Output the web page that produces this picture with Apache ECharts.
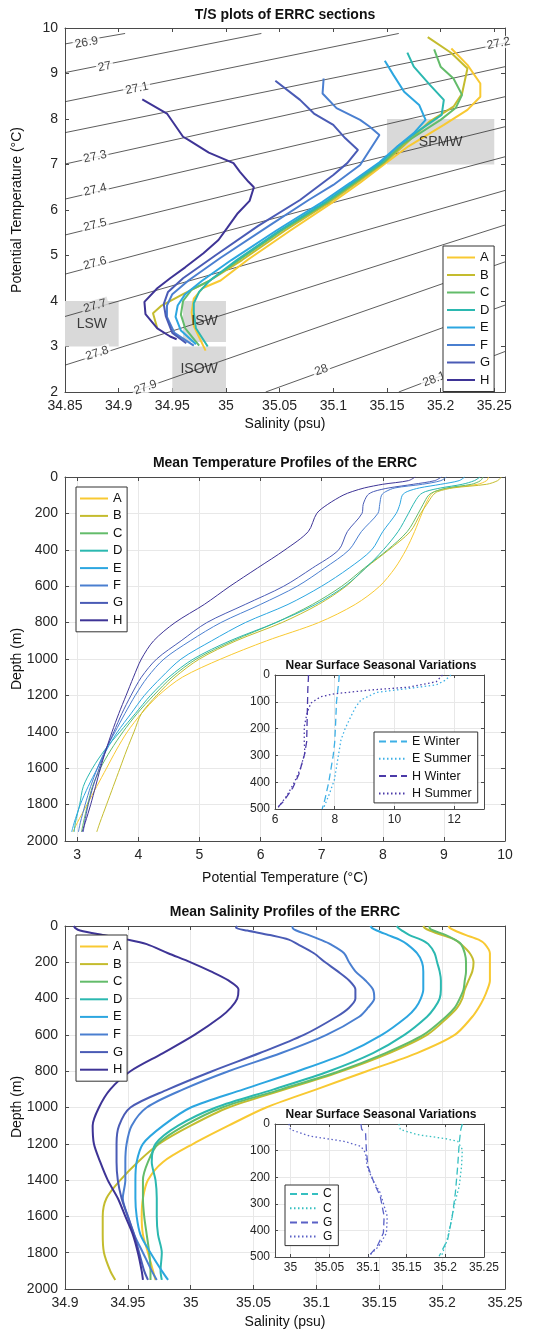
<!DOCTYPE html>
<html><head><meta charset="utf-8">
<script src="https://cdn.jsdelivr.net/npm/echarts@6/dist/echarts.min.js"></script>
<style>html,body{margin:0;padding:0;background:#fff}#c{width:551px;height:1333px}</style>
</head><body><div id="c"></div><script>
// ---------------- DATA ----------------
const sections = ['A','B','C','D','E','F','G','H'];
const sectionColors = ['#F8C932','#C4BC2E','#63BC6A','#2BB8B0','#2CA6E0','#4A7FD0','#4A5BB5','#3E3496'];

// T/S curves: [salinity, potential temperature]
const ts_A = [[35.210,9.55],[35.225,9.19],[35.237,8.78],[35.237,8.49],[35.225,8.20],[35.203,7.87],[35.170,7.40],[35.150,7.05],[35.125,6.60],[35.100,6.18],[35.060,5.55],[35.020,4.90],[34.995,4.45],[34.978,4.28],[34.970,4.05],[34.968,3.75],[34.970,3.45],[34.981,2.91]];
const ts_B = [[35.188,9.80],[35.210,9.45],[35.225,9.11],[35.220,8.56],[35.212,8.27],[35.190,7.95],[35.165,7.40],[35.148,7.05],[35.122,6.60],[35.097,6.18],[35.055,5.55],[35.015,4.90],[34.985,4.45],[34.960,4.15],[34.940,3.90],[34.932,3.73],[34.936,3.40]];
const ts_C = [[35.194,9.53],[35.200,9.15],[35.212,8.89],[35.220,8.53],[35.214,8.24],[35.200,7.98],[35.165,7.45],[35.147,7.05],[35.120,6.60],[35.095,6.18],[35.052,5.55],[35.012,4.90],[34.985,4.45],[34.968,4.25],[34.960,4.00],[34.958,3.70],[34.962,3.40],[34.975,3.02]];
const ts_D = [[35.169,9.46],[35.175,9.15],[35.190,8.75],[35.203,8.42],[35.201,8.09],[35.180,7.75],[35.160,7.40],[35.145,7.05],[35.118,6.60],[35.093,6.18],[35.050,5.55],[35.010,4.90],[34.985,4.45],[34.975,4.20],[34.970,3.95],[34.970,3.75],[34.972,3.40],[34.983,3.00]];
const ts_E = [[35.148,9.28],[35.156,8.97],[35.166,8.60],[35.180,8.31],[35.186,7.98],[35.175,7.69],[35.160,7.40],[35.143,7.05],[35.116,6.60],[35.090,6.18],[35.047,5.55],[35.005,4.90],[34.978,4.45],[34.962,4.15],[34.955,3.90],[34.953,3.65],[34.958,3.35],[34.972,3.05]];
const ts_F = [[35.091,8.89],[35.090,8.56],[35.103,8.24],[35.125,7.98],[35.134,7.83],[35.143,7.65],[35.134,7.32],[35.125,6.99],[35.100,6.55],[35.077,6.22],[35.040,5.65],[34.995,4.95],[34.965,4.45],[34.950,4.15],[34.945,3.90],[34.945,3.65],[34.952,3.30],[34.970,3.02]];
const ts_G = [[35.046,8.84],[35.069,8.42],[35.082,8.12],[35.100,7.87],[35.111,7.58],[35.123,7.32],[35.113,7.03],[35.100,6.77],[35.069,6.22],[35.030,5.65],[34.990,5.00],[34.960,4.50],[34.946,4.20],[34.942,3.93],[34.944,3.66],[34.950,3.30],[34.963,3.07]];
const ts_H = [[34.922,8.43],[34.945,8.12],[34.960,7.61],[34.965,7.54],[34.984,7.26],[35.007,7.03],[35.013,6.84],[35.021,6.62],[35.026,6.50],[35.022,6.20],[35.011,5.93],[35.001,5.60],[34.993,5.34],[34.979,5.05],[34.962,4.74],[34.948,4.50],[34.936,4.28],[34.924,3.98],[34.925,3.71],[34.936,3.40],[34.948,3.22],[34.954,3.16]];

// isopycnals (sigma-theta), end points: [salinity, temperature]
const isopycnalLabels = ['26.9','27','27.1','27.2','27.3','27.4','27.5','27.6','27.7','27.8','27.9','28','28.1'];
const isopycnalLines = [
  [[34.85,9.65],[34.906,9.88]],
  [[34.85,9.02],[35.033,9.88]],
  [[34.85,8.38],[35.161,9.88]],
  [[34.85,7.70],[35.26,9.67]],
  [[34.85,7.01],[35.26,9.15]],
  [[34.85,6.24],[35.26,8.49]],
  [[34.85,5.45],[35.26,7.83]],
  [[34.85,4.59],[35.26,7.17]],
  [[34.85,3.66],[35.26,6.43]],
  [[34.85,2.59],[35.26,5.67]],
  [[34.913,2.0],[35.26,4.86]],
  [[35.037,2.0],[35.26,3.91]],
  [[35.161,2.0],[35.26,2.89]]
];
const isopycnalLabelAt = [[34.870,9.68],[34.887,9.15],[34.917,8.67],[35.254,9.66],[34.878,7.17],[34.878,6.44],[34.878,5.67],[34.878,4.83],[34.878,3.89],[34.880,2.85],[34.925,2.10],[35.089,2.48],[35.194,2.28]];

// water mass boxes
const waterMassNames = ['SPMW','LSW','ISW','ISOW'];
const waterMassSal = [[35.15,35.25],[34.85,34.90],[34.96,35.00],[34.95,35.00]];
const waterMassTemp = [[7.0,8.0],[3.0,4.0],[3.1,4.0],[2.0,3.0]];

// mean temperature profiles
const tempDepths = [0,20,40,60,80,100,150,200,300,400,500,600,700,800,900,1000,1100,1200,1300,1400,1500,1600,1700,1800,1900,1950];
const temp_A = [9.73,9.70,9.55,9.10,8.85,8.78,8.70,8.64,8.52,8.38,8.20,7.95,7.55,6.95,6.10,5.35,4.72,4.33,4.05,3.82,3.64,3.48,3.32,3.16,3.00,2.93];
const temp_B = [9.94,9.88,9.70,9.15,8.90,8.82,8.72,8.62,8.45,8.10,7.72,7.40,6.95,6.35,5.60,5.00,4.60,4.30,4.05,3.93,3.81,3.70,3.59,3.48,3.37,3.32];
const temp_C = [9.64,9.60,9.45,9.05,8.85,8.75,8.66,8.58,8.40,8.08,7.70,7.33,6.85,6.25,5.55,4.95,4.55,4.25,3.98,3.75,3.55,3.38,3.25,3.17,3.10,3.07];
const temp_D = [9.59,9.50,9.30,8.95,8.70,8.60,8.50,8.42,8.25,8.01,7.72,7.38,6.90,6.25,5.50,4.90,4.50,4.20,3.95,3.70,3.45,3.25,3.10,3.04,2.97,2.95];
const temp_E = [9.34,9.25,8.95,8.60,8.40,8.32,8.28,8.22,8.00,7.82,7.45,7.00,6.45,5.75,5.20,4.70,4.38,4.10,3.88,3.66,3.48,3.33,3.18,3.05,2.95,2.91];
const temp_F = [9.04,8.95,8.65,8.20,8.05,7.98,7.95,7.92,7.65,7.45,7.05,6.60,6.00,5.35,4.85,4.42,4.15,3.95,3.78,3.62,3.46,3.33,3.22,3.13,3.05,3.02];
const temp_G = [8.96,8.85,8.50,8.10,7.85,7.75,7.68,7.66,7.42,7.28,6.85,6.38,5.75,5.12,4.70,4.30,4.05,3.88,3.73,3.60,3.47,3.36,3.26,3.18,3.12,3.10];
const temp_H = [8.53,8.42,8.00,7.70,7.50,7.35,7.10,6.92,6.78,6.40,5.95,5.50,5.08,4.60,4.25,4.05,3.92,3.80,3.68,3.57,3.47,3.38,3.30,3.22,3.13,3.08];

// mean salinity profiles
const salDepths = [0,10,25,50,75,100,150,200,250,300,350,400,450,500,600,700,800,900,1000,1100,1200,1300,1400,1500,1600,1700,1800,1900,1950];
const sal_A = [35.205,35.206,35.210,35.219,35.229,35.234,35.238,35.238,35.238,35.238,35.236,35.233,35.229,35.224,35.210,35.180,35.140,35.100,35.060,35.030,35.002,34.978,34.966,34.962,34.961,34.962,34.966,34.970,34.972];
const sal_B = [35.185,35.186,35.190,35.200,35.210,35.215,35.222,35.225,35.224,35.221,35.218,35.216,35.212,35.205,35.188,35.158,35.120,35.075,35.030,35.000,34.975,34.958,34.944,34.933,34.930,34.930,34.931,34.936,34.940];
const sal_C = [35.190,35.190,35.193,35.203,35.210,35.215,35.218,35.219,35.219,35.218,35.217,35.214,35.210,35.203,35.185,35.155,35.118,35.072,35.025,34.995,34.974,34.966,34.962,34.962,34.963,34.965,34.967,34.968,34.968];
const sal_D = [35.164,35.165,35.168,35.174,35.183,35.189,35.194,35.196,35.198,35.199,35.199,35.198,35.194,35.188,35.170,35.145,35.110,35.066,35.020,34.990,34.972,34.969,34.972,34.973,34.973,34.974,34.977,34.976,34.977];
const sal_E = [35.143,35.144,35.148,35.157,35.166,35.172,35.180,35.184,35.185,35.185,35.185,35.183,35.179,35.172,35.152,35.124,35.085,35.042,35.000,34.978,34.962,34.957,34.956,34.956,34.957,34.960,34.968,34.977,34.982];
const sal_F = [35.081,35.081,35.084,35.094,35.103,35.111,35.122,35.126,35.131,35.139,35.145,35.146,35.141,35.134,35.108,35.072,35.030,34.994,34.965,34.953,34.949,34.948,34.948,34.946,34.950,34.955,34.962,34.969,34.973];
const sal_G = [35.037,35.036,35.045,35.063,35.078,35.085,35.098,35.107,35.117,35.126,35.131,35.131,35.126,35.116,35.090,35.055,35.017,34.982,34.952,34.943,34.941,34.941,34.942,34.945,34.950,34.955,34.959,34.963,34.966];
const sal_H = [34.907,34.908,34.912,34.930,34.950,34.965,34.982,35.000,35.016,35.030,35.038,35.037,35.032,35.024,35.003,34.978,34.952,34.936,34.927,34.922,34.923,34.928,34.934,34.942,34.948,34.954,34.958,34.961,34.962];

// inset: near surface seasonal temperature [temperature, depth]
const insetTempNames = ['E Winter','E Summer','H Winter','H Summer'];
const insT_EWinter = [[8.15,0],[8.14,20],[8.10,60],[8.06,100],[8.03,180],[8.00,250],[7.95,300],[7.89,340],[7.80,400],[7.67,465],[7.58,500]];
const insT_ESummer = [[11.89,0],[11.70,20],[11.40,37],[10.50,50],[9.40,65],[8.88,93],[8.70,120],[8.54,155],[8.35,200],[8.21,242],[8.10,316],[7.99,391],[7.80,450],[7.65,490],[7.60,500]];
const insT_HWinter = [[7.12,0],[7.12,10],[7.10,50],[7.08,150],[7.06,250],[6.98,300],[6.80,370],[6.60,420],[6.30,470],[6.03,500]];
const insT_HSummer = [[11.61,0],[11.40,25],[10.50,45],[9.20,56],[8.00,70],[7.53,81],[7.20,105],[7.08,140],[6.98,192],[6.98,250],[7.00,290],[6.85,350],[6.65,400],[6.40,450],[6.10,495]];

// inset: near surface seasonal salinity [salinity, depth]
const insetSalNames = ['C','C','G','G'];
const insS_CWinter = [[35.222,0],[35.220,21],[35.218,71],[35.216,159],[35.213,259],[35.209,347],[35.203,435],[35.192,497]];
const insS_CSummer = [[35.140,0],[35.142,21],[35.164,40],[35.200,55],[35.216,65],[35.222,96],[35.221,159],[35.218,234],[35.212,300],[35.208,360],[35.202,440],[35.195,497]];
const insS_GWinter = [[35.091,0],[35.092,20],[35.097,34],[35.098,96],[35.100,159],[35.108,222],[35.116,272],[35.121,347],[35.120,410],[35.112,460],[35.101,497]];
const insS_GSummer = [[34.998,0],[35.000,21],[35.026,46],[35.069,65],[35.091,84],[35.097,109],[35.099,159],[35.106,209],[35.116,259],[35.125,347],[35.124,410],[35.114,460],[35.101,497]];

// tick values
const tsSalTicks = [34.85,34.9,34.95,35,35.05,35.1,35.15,35.2,35.25];
const tsTempTicks = [2,3,4,5,6,7,8,9,10];
const profTempTicks = [3,4,5,6,7,8,9,10];
const depthTicks = [0,200,400,600,800,1000,1200,1400,1600,1800,2000];
const profSalTicks = [34.9,34.95,35,35.05,35.1,35.15,35.2,35.25];
const insetTempTicks = [6,8,10,12];
const insetDepthTicks = [0,100,200,300,400,500];
const insetSalTicks = [35,35.05,35.1,35.15,35.2,35.25];

// ---------------- CHART ----------------
const FONT = 'Liberation Sans, Arial, Helvetica, sans-serif';
const AX = '#4a4a4a', LBL = '#262626', GRIDC = '#e8e8e8';
const fmt = v => String(parseFloat(Number(v).toFixed(3)));
const tsCurves = [ts_A,ts_B,ts_C,ts_D,ts_E,ts_F,ts_G,ts_H];
const tempProfiles = [temp_A,temp_B,temp_C,temp_D,temp_E,temp_F,temp_G,temp_H];
const salProfiles = [sal_A,sal_B,sal_C,sal_D,sal_E,sal_F,sal_G,sal_H];

const G = [
  {left:65, top:28, width:440, height:364},
  {left:65, top:477, width:440, height:364},
  {left:275, top:675, width:209, height:134, z:5, show:true, backgroundColor:'#fff', borderWidth:0},
  {left:65, top:926, width:440, height:363},
  {left:275, top:1124, width:209, height:133, z:5, show:true, backgroundColor:'#fff', borderWidth:0}
];

function mkAxis(kind, grid, min, max, ticks, opts) {
  opts = opts || {};
  const inset = !!opts.inset;
  const base = {
    type:'value', gridIndex:grid, min:min, max:max, inverse: !!opts.inverse,
    z: inset ? 6 : 0,
    axisLine:{show:true, onZero:false, lineStyle:{color:AX, width:1}},
    axisTick:{show:true, inside:true, length: inset?3:4, customValues:ticks, lineStyle:{color:AX}},
    axisLabel:{show:!opts.mirror, customValues:ticks, formatter:fmt, color:LBL, fontSize: inset?12:14, fontFamily:FONT, margin: inset?5:7},
    splitLine:{show: !!opts.split && !opts.mirror, lineStyle:{color:GRIDC, width:1}}
  };
  base.position = kind==='x' ? (opts.mirror?'top':'bottom') : (opts.mirror?'right':'left');
  return base;
}

const xAxes = [
  mkAxis('x',0,34.85,35.26,tsSalTicks),
  mkAxis('x',0,34.85,35.26,tsSalTicks,{mirror:true}),
  mkAxis('x',1,2.8,10,profTempTicks,{split:true}),
  mkAxis('x',1,2.8,10,profTempTicks,{mirror:true}),
  mkAxis('x',2,6,13,insetTempTicks,{split:true,inset:true}),
  mkAxis('x',2,6,13,insetTempTicks,{mirror:true,inset:true}),
  mkAxis('x',3,34.9,35.25,profSalTicks,{split:true}),
  mkAxis('x',3,34.9,35.25,profSalTicks,{mirror:true}),
  mkAxis('x',4,34.98,35.25,insetSalTicks,{split:true,inset:true}),
  mkAxis('x',4,34.98,35.25,insetSalTicks,{mirror:true,inset:true})
];
const yAxes = [
  mkAxis('y',0,2,10,tsTempTicks),
  mkAxis('y',0,2,10,tsTempTicks,{mirror:true}),
  mkAxis('y',1,0,2000,depthTicks,{split:true,inverse:true}),
  mkAxis('y',1,0,2000,depthTicks,{mirror:true,inverse:true}),
  mkAxis('y',2,0,500,insetDepthTicks,{split:true,inverse:true,inset:true}),
  mkAxis('y',2,0,500,insetDepthTicks,{mirror:true,inverse:true,inset:true}),
  mkAxis('y',3,0,2000,depthTicks,{split:true,inverse:true}),
  mkAxis('y',3,0,2000,depthTicks,{mirror:true,inverse:true}),
  mkAxis('y',4,0,500,insetDepthTicks,{split:true,inverse:true,inset:true}),
  mkAxis('y',4,0,500,insetDepthTicks,{mirror:true,inverse:true,inset:true})
];

const series = [];
// water mass boxes
series.push({
  type:'line', name:'boxes', xAxisIndex:0, yAxisIndex:0, data:[], z:1, silent:true,
  markArea:{silent:true, itemStyle:{color:'#d9d9d9', opacity:1}, label:{show:false},
    data: waterMassNames.map((n,i)=>[{name:n, coord:[waterMassSal[i][0], waterMassTemp[i][1]]},{coord:[waterMassSal[i][1], waterMassTemp[i][0]]}])}
});
// isopycnal lines
isopycnalLines.forEach((ln,i)=>{
  series.push({type:'line', name:'iso'+i, xAxisIndex:0, yAxisIndex:0, data:ln, symbol:'none', z:2, silent:true,
    lineStyle:{color:'#333', width:0.8}});
});
// isopycnal labels
const pxPerS = 440/0.41, pxPerT = 364/8;
series.push({
  type:'scatter', name:'isoLabels', xAxisIndex:0, yAxisIndex:0, symbolSize:1, z:3, silent:true,
  itemStyle:{color:'rgba(0,0,0,0)'},
  data: isopycnalLabelAt.map((p,i)=>{
    const ln = isopycnalLines[i];
    const ang = Math.atan2((ln[1][1]-ln[0][1])*pxPerT, (ln[1][0]-ln[0][0])*pxPerS)*180/Math.PI;
    const insideBox = (p[0]<=waterMassSal[1][1] && p[1]>=waterMassTemp[1][0] && p[1]<=waterMassTemp[1][1]);
    return {value:p, name:isopycnalLabels[i], label:{rotate:ang, backgroundColor: insideBox?'#d9d9d9':'#fff'}};
  }),
  label:{show:true, position:'inside', formatter:p=>p.name, color:'#111', fontSize:12, fontFamily:FONT, padding:[0,2]}
});
// T/S curves
sections.forEach((s,i)=>{
  series.push({type:'line', name:s, xAxisIndex:0, yAxisIndex:0, data:tsCurves[i], symbol:'none', z:4,
    lineStyle:{color:sectionColors[i], width:2}, itemStyle:{color:sectionColors[i]}});
});
// water mass names (on top of the curves)
series.push({
  type:'scatter', name:'wmLabels', xAxisIndex:0, yAxisIndex:0, symbolSize:1, z:6, silent:true,
  itemStyle:{color:'rgba(0,0,0,0)'},
  data: waterMassNames.map((n,i)=>({name:n, value:[(waterMassSal[i][0]+waterMassSal[i][1])/2, (waterMassTemp[i][0]+waterMassTemp[i][1])/2]})),
  label:{show:true, position:'inside', formatter:p=>p.name, color:'#111', fontSize:14, fontFamily:FONT}
});
// temperature profiles
sections.forEach((s,i)=>{
  series.push({type:'line', name:s+'|tp', xAxisIndex:2, yAxisIndex:2, symbol:'none', z:2, smooth:0.3,
    data: tempProfiles[i].map((v,k)=>[v,tempDepths[k]]),
    lineStyle:{color:sectionColors[i], width:1}, itemStyle:{color:sectionColors[i]}});
});
// salinity profiles
sections.forEach((s,i)=>{
  series.push({type:'line', name:s+'|sp', xAxisIndex:6, yAxisIndex:6, symbol:'none', z:2, smooth:0.3,
    data: salProfiles[i].map((v,k)=>[v,salDepths[k]]),
    lineStyle:{color:sectionColors[i], width:2}, itemStyle:{color:sectionColors[i]}});
});
// inset temperature
const insTData = [insT_EWinter, insT_ESummer, insT_HWinter, insT_HSummer];
const insTColors = ['#3DB0E6','#3DB0E6','#4B3AA8','#4B3AA8'];
const dashW = [7,4], dotW = [1.5,2.5];
insTData.forEach((d,i)=>{
  series.push({type:'line', name:insetTempNames[i], xAxisIndex:4, yAxisIndex:4, data:d, symbol:'none', z:7,
    lineStyle:{color:insTColors[i], width:1.3, type: i%2===0?dashW:dotW}, itemStyle:{color:insTColors[i]}});
});
// inset salinity
const insSData = [insS_CWinter, insS_CSummer, insS_GWinter, insS_GSummer];
const insSColors = ['#35BFC0','#35BFC0','#5A61C6','#5A61C6'];
const insSKeys = ['|inset-winter','|inset-summer','|inset-winter','|inset-summer'];
insSData.forEach((d,i)=>{
  series.push({type:'line', name:insetSalNames[i]+insSKeys[i], xAxisIndex:8, yAxisIndex:8, data:d, symbol:'none', z:7,
    lineStyle:{color:insSColors[i], width:1.3, type: i%2===0?dashW:dotW}, itemStyle:{color:insSColors[i]}});
});

const legendBase = {orient:'vertical', backgroundColor:'#fff', borderColor:'#333', borderWidth:1, borderRadius:0,
  itemWidth:28, itemHeight:12, selectedMode:false, z:20, formatter:n=>n.split('|')[0],
  itemStyle:{opacity:0},
  textStyle:{fontSize:13, color:'#111', fontFamily:FONT}};
const legends = [
  Object.assign({}, legendBase, {left:443, top:246, itemGap:4.5, padding:[5,4,5,3], data:sections.slice()}),
  Object.assign({}, legendBase, {left:76, top:487, itemGap:4.4, padding:[5,4,5,3], data:sections.map(s=>s+'|tp')}),
  Object.assign({}, legendBase, {left:76, top:935, itemGap:4.6, padding:[5,4,5,3], data:sections.map(s=>s+'|sp')}),
  Object.assign({}, legendBase, {left:374, top:732, itemGap:4.3, itemHeight:12, padding:[3,6,3,4], data:insetTempNames.slice(), textStyle:{fontSize:12.5,color:'#111',fontFamily:FONT}}),
  Object.assign({}, legendBase, {left:285, top:1185, itemGap:2.2, itemHeight:12, padding:[3,6,3,4], data:insetSalNames.map((n,i)=>n+insSKeys[i]), textStyle:{fontSize:12,color:'#111',fontFamily:FONT}})
];

function txt(text, x, y, font, rot) {
  return {type:'text', x:x, y:y, rotation: rot||0, z:30, silent:true,
    style:{text:text, x:0, y:0, align:'center', verticalAlign:'middle', font:font, fill:'#111'}};
}
const graphics = [
  txt('T/S plots of ERRC sections', 285, 15, 'bold 14px '+FONT),
  txt('Mean Temperature Profiles of the ERRC', 285, 463, 'bold 14px '+FONT),
  txt('Mean Salinity Profiles of the ERRC', 285, 912, 'bold 14px '+FONT),
  txt('Near Surface Seasonal Variations', 381, 666, 'bold 12px '+FONT),
  txt('Near Surface Seasonal Variations', 381, 1115, 'bold 12px '+FONT),
  txt('Salinity (psu)', 285, 424, '14px '+FONT),
  txt('Potential Temperature (\u00B0C)', 285, 878, '14px '+FONT),
  txt('Salinity (psu)', 285, 1322, '14px '+FONT),
  txt('Potential Temperature (\u00B0C)', 17, 210, '14px '+FONT, Math.PI/2),
  txt('Depth (m)', 17, 659, '14px '+FONT, Math.PI/2),
  txt('Depth (m)', 17, 1107, '14px '+FONT, Math.PI/2)
];

const chart = echarts.init(document.getElementById('c'), null, {renderer:'canvas'});
chart.setOption({
  animation:false, backgroundColor:'#fff',
  grid:G, xAxis:xAxes, yAxis:yAxes, series:series, legend:legends, graphic:graphics
});
</script></body></html>
